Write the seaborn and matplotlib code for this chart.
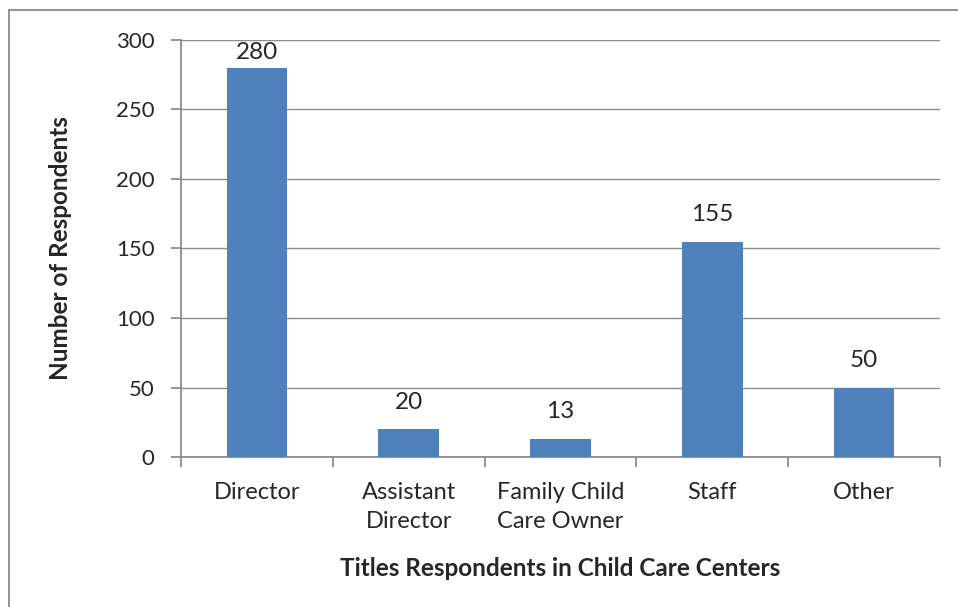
import matplotlib
matplotlib.use("Agg")
import matplotlib.pyplot as plt
import seaborn as sns
import pandas as pd
from matplotlib.patches import Rectangle

titles = ["Director", "Assistant\nDirector", "Family Child\nCare Owner", "Staff", "Other"]
counts = [280, 20, 13, 155, 50]

df = pd.DataFrame({"title": titles, "count": counts})

sns.set_style("white")
plt.rcParams["font.family"] = ["Lato", "DejaVu Sans"]

fig = plt.figure(figsize=(9.58, 6.07), dpi=100)
ax = fig.add_axes([181 / 958, 1 - 457 / 607, (940 - 181) / 958, (457 - 40) / 607])

# outer chart border
fig.patches.append(Rectangle((9 / 958, -0.01), 1.0, 1 - 10 / 607 + 0.01, transform=fig.transFigure,
                             fill=False, edgecolor="#898989", linewidth=1.3))

grid_col = "#8c8c8c"
sns.barplot(data=df, x="title", y="count", color="#4F81BD", width=0.4, saturation=1,
            edgecolor="none", ax=ax, zorder=3)

ax.set_ylim(0, 300)
ax.set_xlim(-0.5, 4.5)
ax.set_yticks(range(0, 301, 50))
ax.yaxis.grid(True, color=grid_col, linewidth=1)
ax.set_axisbelow(True)

for s in ["top", "right"]:
    ax.spines[s].set_visible(False)
for s in ["left", "bottom"]:
    ax.spines[s].set_color(grid_col)
    ax.spines[s].set_linewidth(1.3)

ax.tick_params(axis="y", length=7, color=grid_col, width=1.3, pad=12, labelsize=16, left=True)
ax.set_xticks(range(len(titles)))
ax.set_xticklabels(titles, fontsize=17, linespacing=1.45)
ax.tick_params(axis="x", which="major", length=0, pad=18)
ax.set_xticks([i - 0.5 for i in range(len(titles) + 1)], minor=True)
ax.tick_params(axis="x", which="minor", length=7, color=grid_col, width=1.3, bottom=True)

# value labels, kept inside the plot area like Excel does
for i, v in enumerate(counts):
    ax.text(i, min(v + 19.5, 291), str(v), ha="center", va="center", fontsize=17.5)

ax.set_xlabel("Titles Respondents in Child Care Centers", fontsize=17.5, fontweight="bold", labelpad=18)
ax.set_ylabel("Number of Respondents", fontsize=17.5, fontweight="bold", labelpad=32)

fig.savefig("out.png", dpi=100)
